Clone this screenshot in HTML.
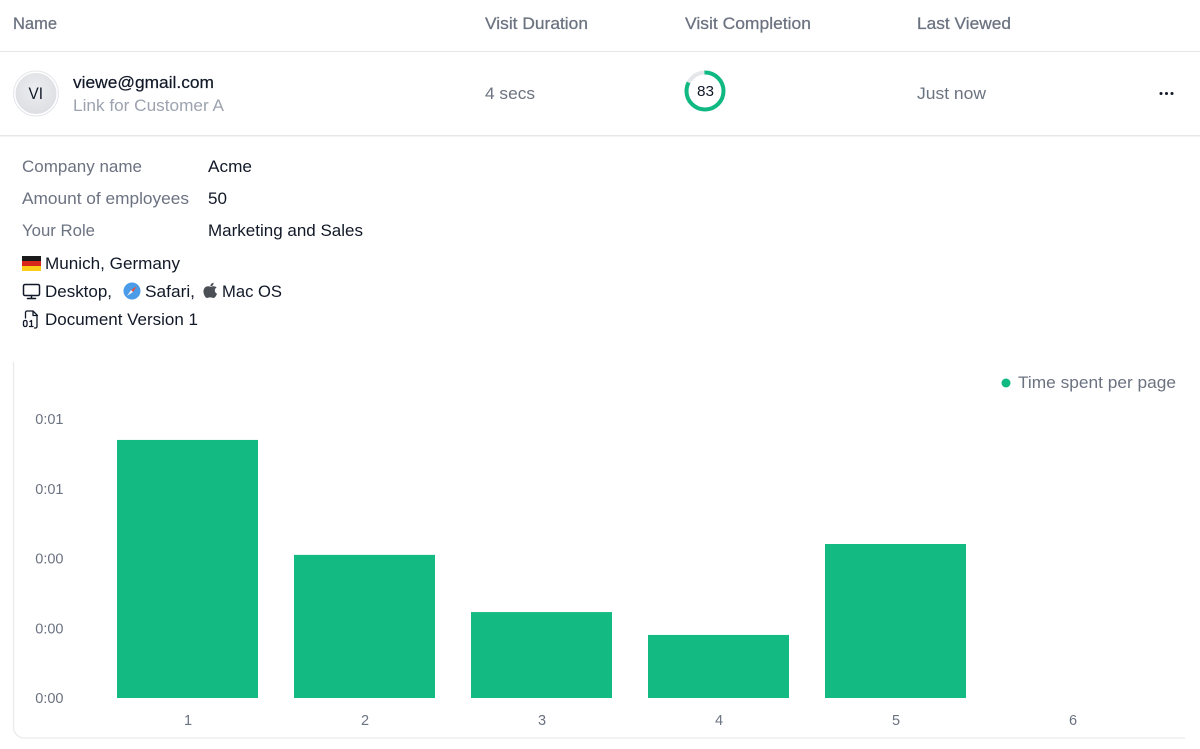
<!DOCTYPE html>
<html lang="en">
<head>
<meta charset="utf-8">
<title>Visit details</title>
<style>
html,body{margin:0;padding:0;background:#fff;width:1200px;height:749px;overflow:hidden}
svg{display:block}
text{font-family:"Liberation Sans",sans-serif;font-size:16.6px}
.h{fill:#6b7280;stroke:#6b7280;stroke-width:.25}
.m{fill:#6b7280}
.d{fill:#111827}
.l{fill:#9ca3af}
.t{fill:#6b7280;font-size:14.5px}
</style>
</head>
<body>
<svg id="page" width="1200" height="749" viewBox="0 0 1200 749" xmlns="http://www.w3.org/2000/svg">
<defs>
<radialGradient id="av" cx="50%" cy="42%" r="60%"><stop offset="0" stop-color="#eceef0"/><stop offset="1" stop-color="#dcdee2"/></radialGradient>
</defs>

<text class="h" x="13" y="29" textLength="44" lengthAdjust="spacingAndGlyphs">Name</text>
<text class="h" x="485" y="29" textLength="103" lengthAdjust="spacingAndGlyphs">Visit Duration</text>
<text class="h" x="685" y="29" textLength="126" lengthAdjust="spacingAndGlyphs">Visit Completion</text>
<text class="h" x="917" y="29" textLength="94" lengthAdjust="spacingAndGlyphs">Last Viewed</text>
<rect x="0" y="51" width="1200" height="1" fill="#e5e7eb"/>

<circle cx="36" cy="93.500" r="22.500" fill="#fff" stroke="#e5e7eb" stroke-width="1"/>
<circle cx="36" cy="93.500" r="20.500" fill="url(#av)"/>
<text class="d" x="28.500" y="99" textLength="14.500" lengthAdjust="spacingAndGlyphs">VI</text>
<text class="d" x="73" y="88" textLength="141" lengthAdjust="spacingAndGlyphs" stroke="#111827" stroke-width=".2">viewe@gmail.com</text>
<text class="l" x="73" y="111" textLength="151" lengthAdjust="spacingAndGlyphs">Link for Customer A</text>
<text class="m" x="485" y="99" textLength="50" lengthAdjust="spacingAndGlyphs">4 secs</text>

<g>
<circle cx="705" cy="91" r="18.500" fill="none" stroke="#e5e7eb" stroke-width="4"/>
<circle cx="705" cy="91" r="18.500" fill="none" stroke="#10b981" stroke-width="4" pathLength="100" stroke-dasharray="83 17" transform="rotate(-90 705 91)"/>
<text x="697" y="96" class="d" style="font-size:14.5px" textLength="17" lengthAdjust="spacingAndGlyphs">83</text>
</g>

<text class="m" x="917" y="99" textLength="69" lengthAdjust="spacingAndGlyphs">Just now</text>
<g fill="#111827">
<circle cx="1161" cy="93.500" r="1.500"/><circle cx="1166.500" cy="93.500" r="1.500"/><circle cx="1172" cy="93.500" r="1.500"/>
</g>
<rect x="0" y="135" width="1200" height="1.500" fill="#e5e7eb"/>

<text class="m" x="22" y="172" textLength="120" lengthAdjust="spacingAndGlyphs">Company name</text>
<text class="d" x="208" y="172" textLength="44" lengthAdjust="spacingAndGlyphs">Acme</text>
<text class="m" x="22" y="204" textLength="167" lengthAdjust="spacingAndGlyphs">Amount of employees</text>
<text class="d" x="208" y="204" textLength="19" lengthAdjust="spacingAndGlyphs">50</text>
<text class="m" x="22" y="236" textLength="73" lengthAdjust="spacingAndGlyphs">Your Role</text>
<text class="d" x="208" y="236" textLength="155" lengthAdjust="spacingAndGlyphs">Marketing and Sales</text>

<g>
<rect x="22" y="256" width="19" height="5" fill="#1a1a1a"/>
<rect x="22" y="261" width="19" height="5" fill="#d8261c"/>
<rect x="22" y="266" width="19" height="5" fill="#fbcd1a"/>
</g>
<text class="d" x="45" y="269" textLength="135" lengthAdjust="spacingAndGlyphs">Munich, Germany</text>

<g fill="none" stroke="#111827" stroke-width="1.500" stroke-linecap="round" stroke-linejoin="round">
<rect x="23.500" y="284.500" width="16" height="11" rx="1.500"/>
<path d="M31.500 295.500v3M27.500 298.500h8"/>
</g>
<text class="d" x="45" y="297" textLength="67" lengthAdjust="spacingAndGlyphs">Desktop,</text>
<g>
<circle cx="132" cy="291" r="8.500" fill="#4a9be8"/>
<path d="M137 286l-6 4 2 2z" fill="#e8503e"/>
<path d="M127 296l6-4-2-2z" fill="#f2f4f7"/>
</g>
<text class="d" x="145" y="297" textLength="50" lengthAdjust="spacingAndGlyphs">Safari,</text>
<g fill="#4b4f56">
<path d="M210.500 287c-1.500-1-3-.9-4-.5-2.200.9-3.300 3.300-3 5.800.3 2.500 1.800 5.700 3.500 5.700.9 0 1.600-.6 3.200-.6s2.300.6 3.200.6c1.500 0 2.900-2.300 3.600-4.300-2.700-1.200-3-4.900-.4-6.200-1.300-1.700-3.900-1.600-6.100-.5z"/>
<path d="M210.300 286.500c0-2 1.400-3.500 3.300-3.700.1 2-1.400 3.600-3.300 3.700z"/>
</g>
<text class="d" x="222" y="297" textLength="60" lengthAdjust="spacingAndGlyphs">Mac OS</text>

<g fill="none" stroke="#111827" stroke-width="1.300" stroke-linecap="round" stroke-linejoin="round">
<path d="M25.500 318v-5.500a1.500 1.500 0 0 1 1.500-1.500h6l4 4v11.500a1.500 1.500 0 0 1-1.500 1.500h-1"/>
<path d="M33 311v4.500h4.500"/>
<rect x="23.500" y="320.500" width="3.500" height="6" rx="1.500"/>
<path d="M30 321.500l1.500-1v6M29.500 326.500h3.500"/>
</g>
<text class="d" x="45" y="325" textLength="153" lengthAdjust="spacingAndGlyphs">Document Version 1</text>

<path d="M13.500 362V727a11 11 0 0 0 11 11H1185" fill="none" stroke="#e9eaee" stroke-width="1.300"/>

<g>
<circle cx="1006" cy="383" r="4.500" fill="#10b981"/>
<text class="m" x="1018" y="388" textLength="158" lengthAdjust="spacingAndGlyphs">Time spent per page</text>
</g>

<g id="chart"></g>
</svg>

<script>
const pages = ['1', '2', '3', '4', '5', '6'];
const timeSpent = [0.925, 0.513, 0.308, 0.226, 0.552, 0];
const yTickValues = [0, 0.25, 0.5, 0.75, 1];
const yTickLabels = ['0:00', '0:00', '0:00', '0:01', '0:01'];

const NS = 'http://www.w3.org/2000/svg';
const chart = document.getElementById('chart');
const plot = { left: 99, right: 1161, top: 419, bottom: 698 };
const yMax = 1;
const step = (plot.right - plot.left) / pages.length;
const barWidth = 141;

function xCenter(i) { return plot.left + step * (i + 0.5); }
function yPos(v) { return plot.bottom - (v / yMax) * (plot.bottom - plot.top); }

yTickValues.forEach(function (v, i) {
  const t = document.createElementNS(NS, 'text');
  t.setAttribute('class', 't');
  t.setAttribute('x', 63.5);
  t.setAttribute('y', yPos(v) + 5);
  t.setAttribute('text-anchor', 'end');
  
  
  t.textContent = yTickLabels[i];
  chart.appendChild(t);
});

pages.forEach(function (p, i) {
  const v = timeSpent[i];
  const r = document.createElementNS(NS, 'rect');
  r.setAttribute('x', xCenter(i) - barWidth / 2);
  r.setAttribute('y', yPos(v));
  r.setAttribute('width', barWidth);
  r.setAttribute('height', plot.bottom - yPos(v));
  r.setAttribute('fill', '#13ba81');
  
  
  chart.appendChild(r);

  const t = document.createElementNS(NS, 'text');
  t.setAttribute('class', 't');
  t.setAttribute('x', xCenter(i) + 0.5);
  t.setAttribute('y', 725);
  t.setAttribute('text-anchor', 'middle');
  
  
  t.textContent = p;
  chart.appendChild(t);
});
</script>
</body>
</html>
